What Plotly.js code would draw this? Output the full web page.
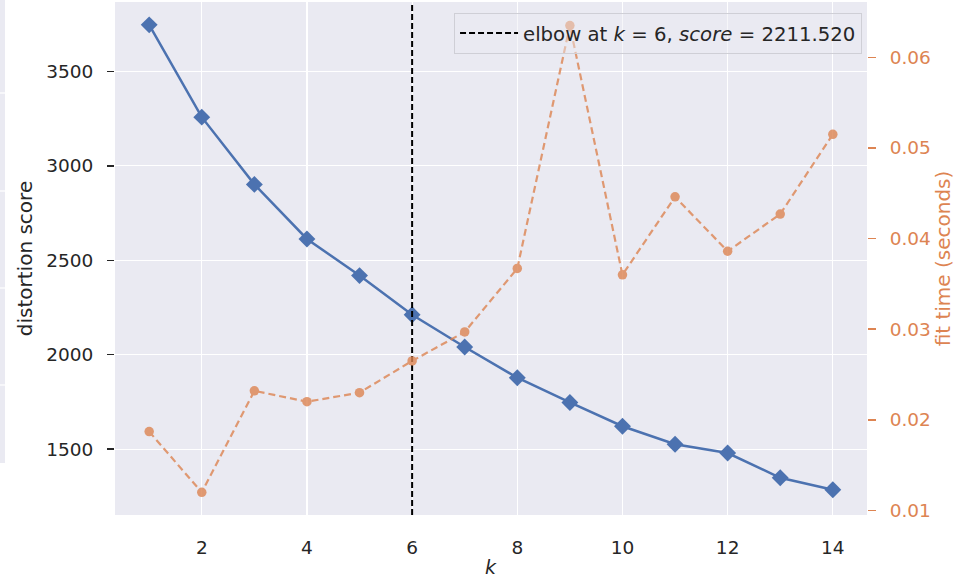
<!DOCTYPE html>
<html>
<head>
<meta charset="utf-8">
<script src="https://cdn.plot.ly/plotly-3.0.1.min.js"></script>
<style>html,body{margin:0;padding:0;background:#fff;}#chart{width:967px;height:578px;}</style>
</head>
<body>
<div id="chart"></div>
<script>
const kValues = [1, 2, 3, 4, 5, 6, 7, 8, 9, 10, 11, 12, 13, 14];
const distortionScores = [3747, 3258, 2902, 2613, 2419, 2211.52, 2041, 1878, 1747, 1621, 1526, 1479, 1348, 1285];
const fitTimes = [0.0187, 0.0120, 0.0232, 0.0220, 0.0230, 0.0265, 0.0297, 0.0367, 0.0635, 0.0360, 0.0446, 0.0386, 0.0427, 0.0515];
const elbowK = 6;
const elbowScore = 2211.520;
const xTicks = [2, 4, 6, 8, 10, 12, 14];
const yTicks = [1500, 2000, 2500, 3000, 3500];
const y2Ticks = [0.01, 0.02, 0.03, 0.04, 0.05, 0.06];

const yRange = [1151, 3868];
const y2Range = [0.0095, 0.0661];

const FONT = 'DejaVu Sans, sans-serif';
const DARK = '#262626';
const BLUE = '#4C72B0';
const ORANGE = '#DD8452';

const traces = [
  {
    x: kValues, y: distortionScores, type: 'scatter', mode: 'lines+markers',
    line: {color: BLUE, width: 2.5},
    marker: {symbol: 'diamond', size: 13, color: BLUE},
    showlegend: false, yaxis: 'y', hoverinfo: 'x+y'
  },
  {
    x: kValues, y: fitTimes, type: 'scatter', mode: 'lines+markers',
    line: {color: ORANGE, width: 2.2, dash: '7px,4px'},
    marker: {symbol: 'circle', size: 9.5, color: ORANGE},
    opacity: 0.8,
    showlegend: false, yaxis: 'y2', hoverinfo: 'x+y'
  },
  {
    x: [elbowK, elbowK], y: yRange, type: 'scatter', mode: 'lines',
    line: {color: '#000000', width: 2, dash: '6px,3px'},
    name: 'elbow at <i>k</i> = ' + elbowK + ', <i>score</i> = ' + elbowScore.toFixed(3),
    showlegend: true, yaxis: 'y', hoverinfo: 'skip'
  }
];

// stray neighbouring panel strip on the far left (decoration)
const W = 752, H = 513, L = 115;
function px(x){ return (x - L) / W; }
function py(y){ return (515 - y) / H; }
const shapes = [
  {type:'rect', xref:'paper', yref:'paper', x0:px(0), x1:px(5), y0:py(463), y1:py(0), fillcolor:'#EAEAF2', line:{width:0}, layer:'below'}
];
[93, 191, 288, 385].forEach(function(yy){
  shapes.push({type:'line', xref:'paper', yref:'paper', x0:px(0), x1:px(5), y0:py(yy), y1:py(yy), line:{color:'#ffffff', width:1.2}});
});

const layout = {
  width: 967, height: 578,
  margin: {l: 115, r: 100, t: 2, b: 63, pad: 0},
  paper_bgcolor: '#ffffff',
  plot_bgcolor: '#EAEAF2',
  font: {family: FONT, color: DARK, size: 18},
  showlegend: true,
  legend: {
    x: 0.9934, xanchor: 'right', y: 0.979, yanchor: 'top',
    bgcolor: 'rgba(234,234,242,0.45)', bordercolor: '#cfcfd6', borderwidth: 1,
    font: {family: FONT, size: 19.7, color: DARK},
    itemwidth: 58
  },
  xaxis: {
    range: [0.35, 14.65], tickvals: xTicks, ticktext: xTicks.map(String),
    showgrid: true, gridcolor: '#ffffff', gridwidth: 1.2,
    zeroline: false, showline: false, ticks: '',
    ticklabelstandoff: 19,
    tickfont: {family: FONT, size: 18.5, color: DARK}
  },
  yaxis: {
    range: yRange, tickvals: yTicks, ticktext: yTicks.map(String),
    showgrid: true, gridcolor: '#ffffff', gridwidth: 1.2,
    zeroline: false, showline: false,
    ticks: 'outside', ticklen: 7, tickwidth: 1.5, tickcolor: DARK,
    ticklabelstandoff: 10,
    tickfont: {family: FONT, size: 18.5, color: DARK},
    title: {text: 'distortion score', font: {family: FONT, size: 20, color: DARK}, standoff: 8}
  },
  yaxis2: {
    range: y2Range, overlaying: 'y', side: 'right',
    tickvals: y2Ticks, ticktext: y2Ticks.map(function(v){return v.toFixed(2);}),
    showgrid: false, zeroline: false, showline: false,
    ticks: 'outside', ticklen: 8, tickwidth: 1.5, tickcolor: ORANGE,
    ticklabelstandoff: 10,
    tickfont: {family: FONT, size: 18.5, color: ORANGE},
    title: {text: 'fit time (seconds)', font: {family: FONT, size: 20, color: ORANGE}, standoff: 2}
  },
  annotations: [
    {xref: 'paper', yref: 'paper', x: 0.5, y: 0, yshift: -39, xanchor: 'center', yanchor: 'top',
     text: '<i>k</i>', showarrow: false, font: {family: FONT, size: 19, color: DARK}}
  ],
  shapes: shapes
};

Plotly.newPlot('chart', traces, layout, {displayModeBar: false, staticPlot: true});
</script>
</body>
</html>
